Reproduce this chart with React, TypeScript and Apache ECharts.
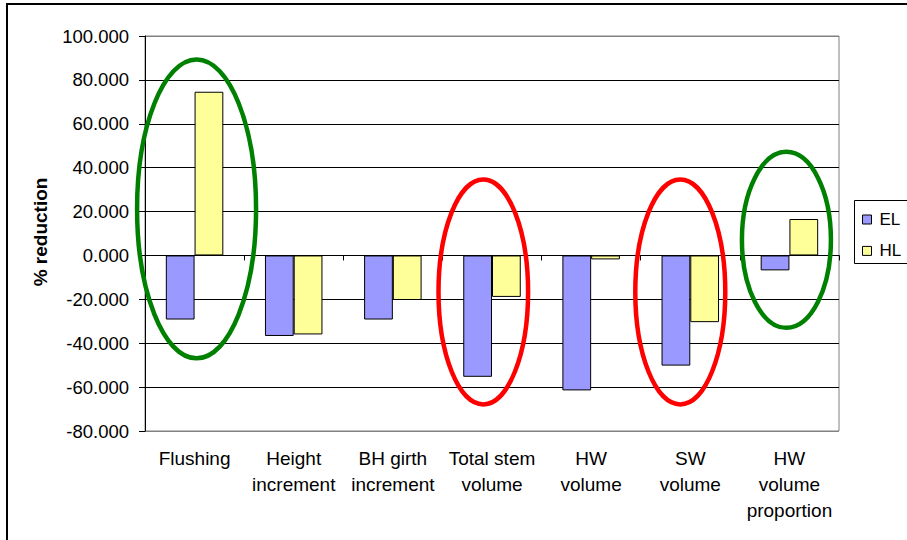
import React, { useEffect, useRef } from "react";
import * as echarts from "echarts";

const categories = [
  "Flushing",
  "Height\nincrement",
  "BH girth\nincrement",
  "Total stem\nvolume",
  "HW\nvolume",
  "SW\nvolume",
  "HW\nvolume\nproportion",
];
const elValues = [-29.2, -36.7, -29.2, -55.3, -61.5, -50.2, -6.8];
const hlValues = [74.6, -36.0, -20.3, -18.9, -1.8, -30.4, 16.6];
const seriesNames = ["EL", "HL"];

// annotation ellipses (category index, value extent)
const rings = [
  { cat: 0, dx: 2, top: 89.3, bottom: -46.9, rx: 59.5, color: "#008000" },
  { cat: 3, dx: -8.7, top: 34.6, bottom: -67.9, rx: 44.8, color: "#FF0000" },
  { cat: 5, dx: -10, top: 34.6, bottom: -67.9, rx: 45, color: "#FF0000" },
  { cat: 6, dx: -3, top: 47.2, bottom: -33.0, rx: 44.5, color: "#008000" },
];

const FONT = "'Liberation Sans', Arial, sans-serif";

export default function App() {
  const ref = useRef<HTMLDivElement>(null);
  useEffect(() => {
    if (!ref.current) return;
    const chart = echarts.init(ref.current, undefined, { renderer: "svg" });
    const splitColors = ["#808080", "#000", "#000", "#000", "#000", "#000", "#000", "#000", "#000", "#808080"];
    chart.setOption({
      animation: false,
      backgroundColor: "#fff",
      textStyle: { fontFamily: FONT },
      grid: {
        left: 145,
        right: 68,
        top: 36,
        bottom: 109,
        show: true,
        borderColor: "#808080",
        borderWidth: 1,
        backgroundColor: "transparent",
        containLabel: false,
      },
      legend: {
        data: seriesNames,
        orient: "vertical",
        left: 862,
        top: 211,
        padding: 0,
        itemGap: 14.4,
        itemWidth: 9,
        itemHeight: 9,
        icon: "rect",
        itemStyle: { borderColor: "#000", borderWidth: 1 },
        textStyle: { fontSize: 17, color: "#000", fontFamily: FONT, padding: [0, 0, 0, 3] },
      },
      xAxis: [
        {
          type: "category",
          data: categories,
          position: "bottom",
          axisLine: { show: false, onZero: false },
          axisTick: { show: false },
          splitLine: { show: false },
          axisLabel: {
            interval: 0,
            fontSize: 19,
            lineHeight: 26,
            color: "#000",
            margin: 14,
            fontFamily: FONT,
          },
        },
        {
          type: "category",
          data: categories,
          position: "top",
          axisLine: { show: true, onZero: true, onZeroAxisIndex: 0, lineStyle: { color: "#000", width: 1 } },
          axisTick: { show: true, inside: true, length: 5, interval: 0, lineStyle: { color: "#000" } },
          axisLabel: { show: false },
          splitLine: { show: false },
        },
      ],
      yAxis: {
        type: "value",
        min: -80,
        max: 100,
        interval: 20,
        axisLine: { show: true, lineStyle: { color: "#000", width: 1 } },
        axisTick: { show: true, length: 6, lineStyle: { color: "#000" } },
        axisLabel: {
          fontSize: 18.5,
          color: "#000",
          margin: 16,
          fontFamily: FONT,
          formatter: (v: number) => v.toFixed(3),
        },
        splitLine: { show: true, lineStyle: { color: splitColors, width: 1 } },
      },
      series: [
        {
          name: seriesNames[0],
          type: "bar",
          xAxisIndex: 0,
          data: elValues,
          barGap: "0%",
          barCategoryGap: "42%",
          itemStyle: { color: "#9999FF", borderColor: "#000", borderWidth: 1 },
        },
        {
          name: seriesNames[1],
          type: "bar",
          xAxisIndex: 0,
          data: hlValues,
          barGap: "0%",
          barCategoryGap: "42%",
          itemStyle: { color: "#FFFF99", borderColor: "#000", borderWidth: 1 },
        },
      ],
    });

    const ellipseGraphics = rings.map((r) => {
      const pTop = chart.convertToPixel({ xAxisIndex: 0, yAxisIndex: 0 }, [r.cat, r.top]) as number[];
      const pBot = chart.convertToPixel({ xAxisIndex: 0, yAxisIndex: 0 }, [r.cat, r.bottom]) as number[];
      return {
        type: "ellipse",
        shape: { cx: pTop[0] + r.dx, cy: (pTop[1] + pBot[1]) / 2, rx: r.rx, ry: (pBot[1] - pTop[1]) / 2 },
        style: { fill: "none", stroke: r.color, lineWidth: 4.5 },
        z: 100,
      };
    });

    chart.setOption({
      graphic: [
        {
          type: "rect",
          shape: { x: 7, y: 4, width: 1000, height: 1000 },
          style: { fill: "none", stroke: "#000", lineWidth: 2 },
          z: 50,
        },
        {
          type: "rect",
          shape: { x: 854.5, y: 200.5, width: 100, height: 63 },
          style: { fill: "none", stroke: "#000", lineWidth: 1 },
          z: 50,
        },
        {
          type: "text",
          x: 40,
          y: 232,
          rotation: Math.PI / 2,
          style: {
            text: "% reduction",
            font: `bold 19px ${FONT}`,
            fill: "#000",
            align: "center",
            verticalAlign: "middle",
          },
          z: 50,
        },
        ...ellipseGraphics,
      ],
    });

    return () => chart.dispose();
  }, []);
  return (
    <div
      ref={ref}
      style={{ position: "absolute", left: 0, top: 0, width: 907, height: 540 }}
    />
  );
}
